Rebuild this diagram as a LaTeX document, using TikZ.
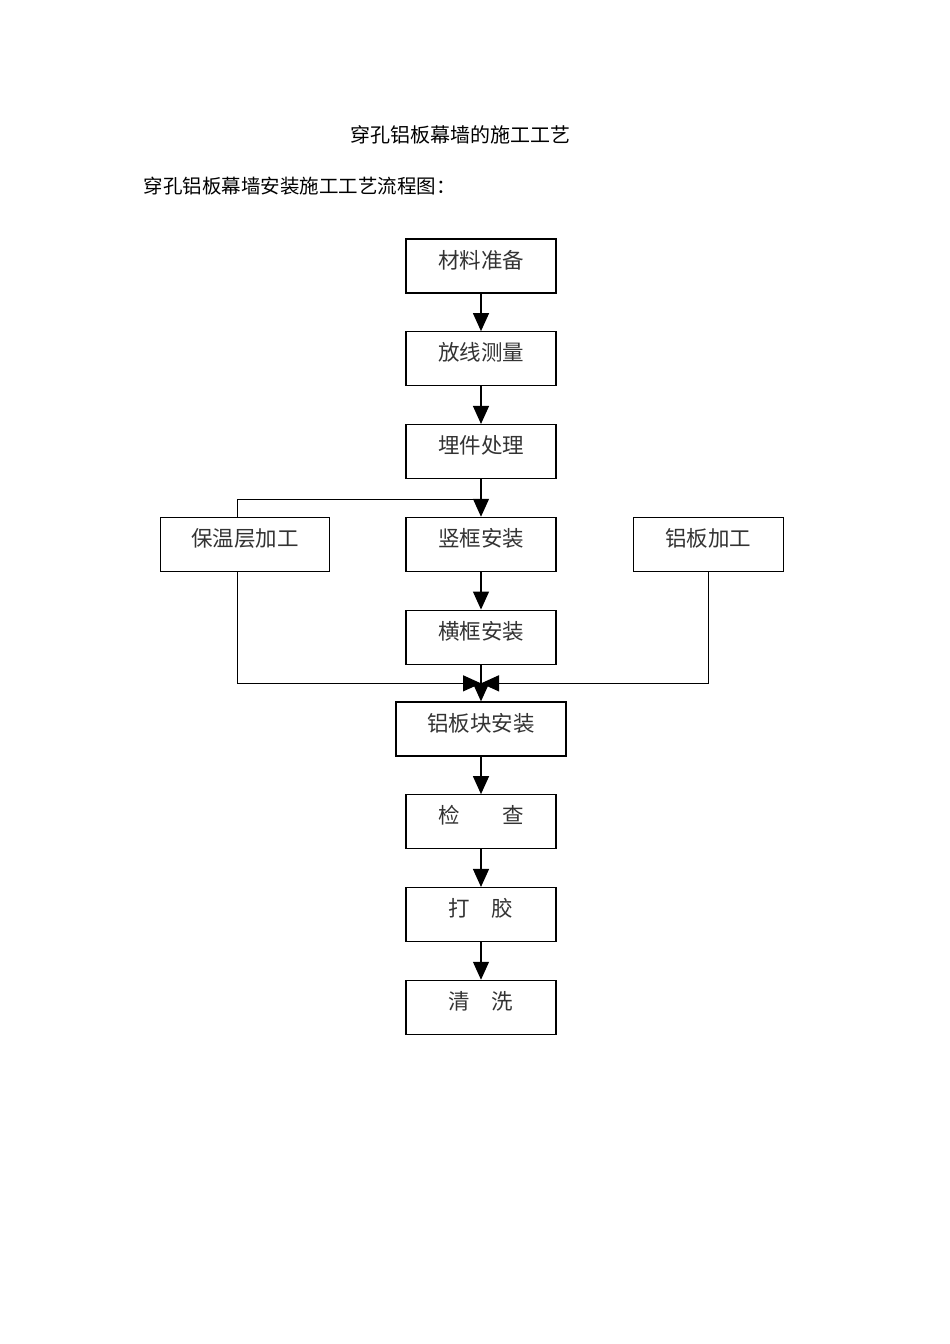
\documentclass[tikz,border=0pt]{standalone}
\usepackage{fontspec}
\setmainfont{Noto Sans CJK SC}
\usetikzlibrary{arrows.meta,positioning}
\definecolor{boxtext}{HTML}{333333}

\tikzset{
  stepbox/.style={draw, line width=1.3pt, minimum width=150pt, minimum height=54pt,
    inner sep=0pt, text height=15pt, text depth=11pt, text=boxtext,
    font=\fontsize{21.5}{24}\selectfont},
  flow/.style={line width=1.2pt, -{Triangle[width=16pt, length=18pt]}},
  link/.style={line width=1.2pt}
}

\begin{document}
\begin{tikzpicture}[x=1pt, y=1pt, node distance=37.5pt]
  \useasboundingbox (0,0) rectangle (950,-1344);
  \node[font=\fontsize{20}{24}\selectfont] (title) at (460,-135) {穿孔铝板幕墙的施工工艺};
  \node[font=\fontsize{19.5}{24}\selectfont, anchor=west] (subtitle) at (140,-186) {穿孔铝板幕墙安装施工工艺流程图：};

  \node[stepbox] (prep) at (481,-266) {材料准备};
  \node[stepbox, below=of prep] (survey) {放线测量};
  \node[stepbox, below=of survey] (embed) {埋件处理};
  \node[stepbox, below=of embed] (mullion) {竖框安装};
  \node[stepbox, minimum width=169pt, left=75pt of mullion] (insul) {保温层加工};
  \node[stepbox, right=76pt of mullion] (panel) {铝板加工};
  \node[stepbox, below=of mullion] (transom) {横框安装};
  \node[stepbox, minimum width=170pt, below=36.5pt of transom] (install) {铝板块安装};
  \node[stepbox, below=of install] (check) {检\hspace{2em}查};
  \node[stepbox, below=of check] (glue) {打\hspace{1em}胶};
  \node[stepbox, below=of glue] (clean) {清\hspace{1em}洗};

  \draw[flow] (prep) -- (survey);
  \draw[flow] (survey) -- (embed);
  \draw[flow] (embed) -- (mullion);
  \draw[flow] (mullion) -- (transom);
  \draw[flow] (transom) -- (install);
  \draw[flow] (install) -- (check);
  \draw[flow] (check) -- (glue);
  \draw[flow] (glue) -- (clean);

  % side branches
  \path (embed.south) ++(0,-20pt) coordinate (split);
  \path (install.north) ++(0,18pt) coordinate (merge);
  \draw[link] ([xshift=-8pt]insul.north) |- (split);
  \draw[flow] ([xshift=-8pt]insul.south) |- (merge);
  \draw[flow] (panel.south) |- (merge);
\end{tikzpicture}
\end{document}
